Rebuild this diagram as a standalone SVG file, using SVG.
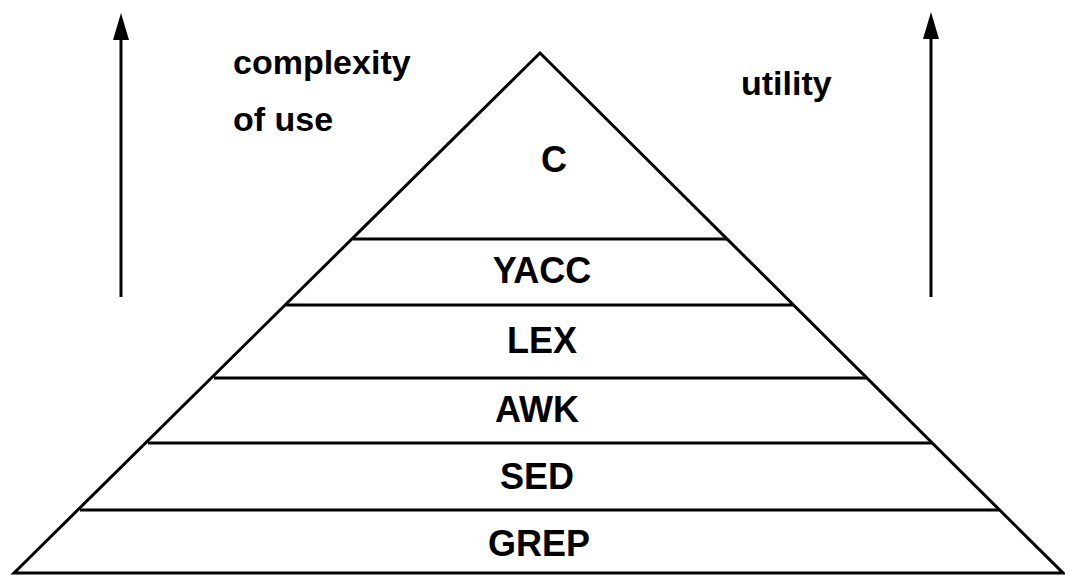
<svg xmlns="http://www.w3.org/2000/svg" width="1065" height="577" viewBox="0 0 1065 577">
  <style>
    .edge { stroke: #000; stroke-width: 3; fill: none; stroke-linejoin: miter; }
    .band { stroke: #000; stroke-width: 3; }
    .shaft { stroke: #000; stroke-width: 3; }
    .lbl { font-family: "Liberation Sans", Arial, sans-serif; font-weight: bold; font-size: 36px; fill: #000; text-anchor: middle; }
    .cap { font-family: "Liberation Sans", Arial, sans-serif; font-weight: bold; font-size: 34px; fill: #000; }
  </style>
  <defs>
    <!-- filled arrowhead, drawn pointing along +x so orient="auto" follows the shaft -->
    <marker id="head" markerWidth="28" markerHeight="16" refX="0" refY="8" orient="auto" markerUnits="userSpaceOnUse" viewBox="0 0 28 16">
      <path d="M0 0 L27 8 L0 16 Z" fill="#000"/>
    </marker>
  </defs>

  <rect width="1065" height="577" fill="#fff"/>

  <!-- axis arrows -->
  <g id="connectors">
    <line class="shaft" x1="121" y1="297" x2="121" y2="40" marker-end="url(#head)"/>
    <line class="shaft" x1="931" y1="297" x2="931" y2="39" marker-end="url(#head)"/>
  </g>

  <!-- pyramid outline -->
  <g id="pyramid">
    <path class="edge" d="M14 573 L540 53 L1063 573 Z"/>
  </g>

  <!-- layers, top to bottom -->
  <g id="layer-c">
    <text class="lbl" x="554" y="172">C</text>
  </g>
  <g id="layer-yacc">
    <line class="band" x1="353" y1="239" x2="727" y2="239"/>
    <text class="lbl" x="542" y="283">YACC</text>
  </g>
  <g id="layer-lex">
    <line class="band" x1="286" y1="305" x2="793" y2="305"/>
    <text class="lbl" x="542" y="353">LEX</text>
  </g>
  <g id="layer-awk">
    <line class="band" x1="214" y1="378" x2="866" y2="378"/>
    <text class="lbl" x="537" y="422">AWK</text>
  </g>
  <g id="layer-sed">
    <line class="band" x1="148" y1="443" x2="932" y2="443"/>
    <text class="lbl" x="537" y="489">SED</text>
  </g>
  <g id="layer-grep">
    <line class="band" x1="80" y1="510" x2="1000" y2="510"/>
    <text class="lbl" x="539" y="556">GREP</text>
  </g>

  <!-- axis captions -->
  <g id="caption-complexity">
    <text class="cap" x="233" y="74">complexity</text>
    <text class="cap" x="233" y="131">of use</text>
  </g>
  <g id="caption-utility">
    <text class="cap" x="741" y="95">utility</text>
  </g>
</svg>
